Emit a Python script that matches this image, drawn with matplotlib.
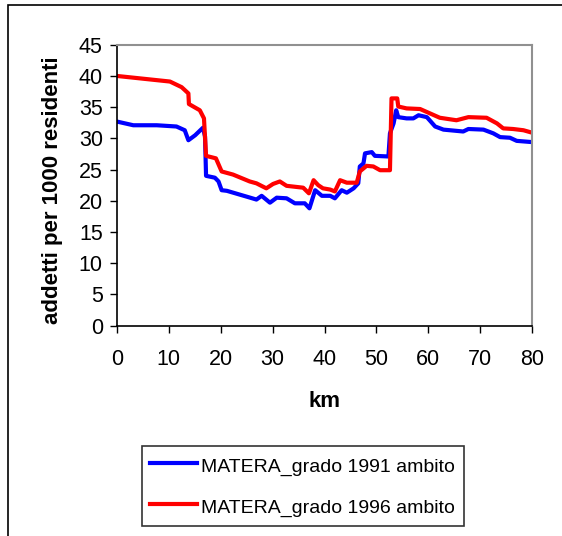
import matplotlib
matplotlib.use('Agg')
import matplotlib.pyplot as plt
from matplotlib.patches import Rectangle

plt.rcParams['font.family'] = ['Liberation Sans', 'DejaVu Sans']

# values
km_1991 = [0, 3.2, 7.7, 11.5, 13.1, 13.8, 15.1, 16.6, 17.0, 17.2, 18.9, 19.6, 20.2, 21.2,
           25.7, 26.9, 27.9, 29.5, 30.8, 32.7, 34.3, 36.2, 37.1, 38.2, 39.5, 41.1, 42.0,
           43.3, 44.3, 45.6, 46.5, 46.8, 47.5, 47.8, 49.1, 49.7, 52.3, 52.6, 53.3, 53.8,
           54.2, 55.8, 57.1, 58.1, 59.7, 61.3, 62.9, 66.7, 67.7, 70.6, 72.5, 73.8, 75.7,
           77.0, 80]
val_1991 = [32.7, 32.1, 32.1, 31.9, 31.3, 29.7, 30.5, 31.7, 30.3, 24.0, 23.7, 23.1, 21.7, 21.6,
            20.5, 20.2, 20.8, 19.7, 20.5, 20.4, 19.6, 19.6, 18.8, 21.7, 20.8, 20.8, 20.4,
            21.7, 21.3, 22.0, 22.8, 25.5, 26.0, 27.6, 27.8, 27.2, 27.1, 30.8, 32.4, 34.5,
            33.4, 33.2, 33.2, 33.7, 33.4, 31.9, 31.4, 31.1, 31.5, 31.4, 30.8, 30.2, 30.1,
            29.6, 29.4]

km_1996 = [0, 10.25, 12.5, 13.8, 13.9, 16.0, 16.8, 17.2, 19.1, 20.2, 22.4, 25.6, 26.9, 28.8,
           30.1, 31.4, 32.7, 35.9, 37.0, 37.9, 38.8, 39.7, 41.1, 42.0, 43.0, 44.3, 46.2,
           46.8, 48.1, 49.4, 50.7, 52.6, 52.9, 54.0, 54.2, 55.8, 58.4, 60.3, 62.2, 65.4,
           67.7, 71.2, 73.2, 74.4, 76.3, 78.3, 80]
val_1996 = [40.0, 39.1, 38.2, 37.2, 35.5, 34.5, 33.2, 27.2, 26.8, 24.7, 24.2, 23.1, 22.8, 22.0,
            22.7, 23.1, 22.4, 22.1, 21.2, 23.3, 22.5, 22.0, 21.8, 21.5, 23.3, 22.9, 22.9,
            24.7, 25.6, 25.5, 24.9, 24.9, 36.4, 36.4, 35.1, 34.8, 34.7, 34.0, 33.3, 32.9,
            33.4, 33.3, 32.4, 31.6, 31.5, 31.3, 30.9]

labels = ['MATERA_grado 1991 ambito', 'MATERA_grado 1996 ambito']
colors = ['#0000ff', '#ff0000']

fig = plt.figure(figsize=(5.62, 5.36), dpi=100)
# outer chart-area frame (only top and left show in the reference)
fig.patches.append(Rectangle((8 / 562, -0.05), 1.1, 1 - 4.5 / 536 + 0.05,
                             transform=fig.transFigure, fill=False,
                             edgecolor='black', linewidth=1.2))

ax = fig.add_axes([116.7 / 562, 1 - 325.7 / 536, 415.6 / 562, 281 / 536])
ax.plot(km_1991, val_1991, color=colors[0], lw=3.0, label=labels[0], solid_joinstyle='round')
ax.plot(km_1996, val_1996, color=colors[1], lw=3.0, label=labels[1], solid_joinstyle='round')

ax.set_xlim(0, 80)
ax.set_ylim(0, 45)
ax.set_xticks(range(0, 81, 10))
ax.set_yticks(range(0, 46, 5))
ax.tick_params(direction='out', length=5, width=1, labelsize=15.5, color='black')
ax.tick_params(axis='x', pad=12)
ax.tick_params(axis='y', pad=5)
for side in ['left', 'bottom']:
    ax.spines[side].set_color('black')
    ax.spines[side].set_linewidth(1.2)
for side in ['top', 'right']:
    ax.spines[side].set_color('#909090')
    ax.spines[side].set_linewidth(1.5)

ax.set_xlabel('km', fontsize=16, fontweight='bold', labelpad=15)
ax.set_ylabel('addetti per 1000 residenti', fontsize=16, fontweight='bold', labelpad=11.5)
ax.yaxis.label.set_y(0.481)

leg = fig.legend(loc='upper left', bbox_to_anchor=(141.7 / 562, 1 - 446 / 536),
                 fontsize=14, frameon=True, fancybox=False, edgecolor='black',
                 handlelength=2.4, handleheight=1.33, handletextpad=0.2, labelspacing=1.0,
                 borderaxespad=0, borderpad=0.45)
leg.get_frame().set_linewidth(1.2)

fig.savefig('out.png', dpi=100)
